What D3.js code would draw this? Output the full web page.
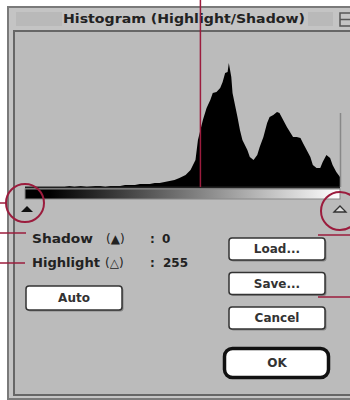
<!DOCTYPE html>
<html>
<head>
<meta charset="utf-8">
<script src="https://cdn.jsdelivr.net/npm/d3@7"></script>
<style>
  body { margin: 0; background: #fff; }
  svg { display: block; font-family: "DejaVu Sans", sans-serif; }
</style>
</head>
<body>
<svg id="chart" width="350" height="400"></svg>
<script>
// histogram: tonal level (0-255) and pixel count (arbitrary units)
const levels = [0, 16, 32, 36, 40, 45, 50, 57, 61, 65, 69, 73, 77, 81, 85, 89, 93, 97, 101, 105, 109, 113, 117, 121, 125,
  130, 134, 138, 140, 142, 144, 147, 150, 152, 155, 158, 160, 162, 164, 165, 167, 168, 172, 174, 176, 180, 182, 185,
  188, 190, 193, 196, 198, 201, 204, 206, 209, 212, 215, 217, 220, 223, 225, 228, 231, 233, 236, 239, 241, 244, 247,
  249, 252, 255]
const counts = [0, 0, 0, 1, 0, 1, 0, 1, 1, 0, 1, 1, 1, 2, 2, 2, 3, 3, 3, 4, 4, 5, 6, 7, 9,
  12, 17, 27, 47, 57, 67, 79, 87, 94, 95, 99, 105, 114, 115, 124, 110, 94, 70, 57, 47, 37, 30, 27,
  32, 40, 50, 64, 70, 72, 75, 74, 67, 60, 54, 50, 50, 49, 44, 37, 30, 22, 19, 19, 25, 32, 29,
  22, 15, 10]

const shadowLevel = 0
const highlightLevel = 255
const pointerLevel = 142

const titleText = 'Histogram (Highlight/Shadow)'
const sideButtons = ['Load...', 'Save...', 'Cancel']

const svg = d3.select('#chart')
const red = '#9b1c3d'
const gray = '#bbbbbb'

// window frame
svg.append('rect').attr('x', 8).attr('y', 7).attr('width', 350).attr('height', 392)
  .attr('fill', '#c4c4c4').attr('stroke', '#7a7a7a').attr('stroke-width', 2)
svg.append('rect').attr('x', 14).attr('y', 31).attr('width', 345).attr('height', 364)
  .attr('fill', gray).attr('stroke', '#666').attr('stroke-width', 2)

// title bar
svg.append('rect').attr('x', 16).attr('y', 12).attr('width', 46).attr('height', 14).attr('fill', '#b9b9b9')
svg.append('rect').attr('x', 308).attr('y', 12).attr('width', 25).attr('height', 14).attr('fill', '#b9b9b9')
svg.append('rect').attr('x', 340).attr('y', 13).attr('width', 14).attr('height', 13)
  .attr('fill', 'none').attr('stroke', '#555').attr('stroke-width', 1.5)
svg.append('line').attr('x1', 340).attr('x2', 354).attr('y1', 19.5).attr('y2', 19.5)
  .attr('stroke', '#555').attr('stroke-width', 1.5)
svg.append('text').attr('x', 63).attr('y', 23).text(titleText)
  .attr('font-size', 13).attr('font-weight', 'bold').attr('fill', '#222')
  .attr('textLength', 242).attr('lengthAdjust', 'spacingAndGlyphs')

// scales
const x = d3.scaleLinear().domain([0, 255]).range([25, 340])
const y = d3.scaleLinear().domain([0, 130]).range([187, 57])

const data = levels.map((l, i) => ({ level: l, count: counts[i] }))

const area = d3.area()
  .x(d => x(d.level))
  .y0(y(0))
  .y1(d => y(d.count))

svg.append('path').datum(data).attr('d', area).attr('fill', '#000')
svg.append('line').attr('x1', x(0)).attr('x2', x(255)).attr('y1', y(0) + 0.5).attr('y2', y(0) + 0.5)
  .attr('stroke', '#222').attr('stroke-width', 2)

// highlight limit line on right
svg.append('line').attr('x1', x(255) + 0.5).attr('x2', x(255) + 0.5).attr('y1', y(74)).attr('y2', y(0))
  .attr('stroke', '#888').attr('stroke-width', 1.5)

// gradient bar
const grad = svg.append('defs').append('linearGradient').attr('id', 'ramp')
grad.append('stop').attr('offset', '0%').attr('stop-color', '#000')
grad.append('stop').attr('offset', '8%').attr('stop-color', '#000')
grad.append('stop').attr('offset', '100%').attr('stop-color', '#fff')
svg.append('rect').attr('x', x(0)).attr('y', 189).attr('width', x(255) - x(0)).attr('height', 10)
  .attr('fill', 'url(#ramp)').attr('stroke', '#888').attr('stroke-width', 1)

// slider triangles
const tri = (cx) => `M${cx - 6},212 L${cx},206 L${cx + 6},212 Z`
svg.append('path').attr('d', tri(x(shadowLevel) + 2)).attr('fill', '#111')
svg.append('path').attr('d', tri(x(highlightLevel))).attr('fill', '#ddd').attr('stroke', '#333').attr('stroke-width', 1.3)

// labels
const lab = svg.append('g').attr('font-size', 12).attr('font-weight', 'bold').attr('fill', '#222')
lab.append('text').attr('x', 32).attr('y', 243).text('Shadow').attr('textLength', 61).attr('lengthAdjust', 'spacingAndGlyphs')
lab.append('text').attr('x', 106).attr('y', 243).text('(▲)').attr('font-weight', 'normal')
lab.append('text').attr('x', 150).attr('y', 243).text(':')
lab.append('text').attr('x', 162).attr('y', 243).text(String(shadowLevel))
lab.append('text').attr('x', 32).attr('y', 267).text('Highlight').attr('textLength', 68).attr('lengthAdjust', 'spacingAndGlyphs')
lab.append('text').attr('x', 105).attr('y', 267).text('(△)').attr('font-weight', 'normal')
lab.append('text').attr('x', 150).attr('y', 267).text(':')
lab.append('text').attr('x', 163).attr('y', 267).text(String(highlightLevel))

// buttons
const button = (bx, by, w, h, label) => {
  svg.append('rect').attr('x', bx + 1.5).attr('y', by + 1.5).attr('width', w).attr('height', h).attr('rx', 3).attr('fill', '#888')
  svg.append('rect').attr('x', bx).attr('y', by).attr('width', w).attr('height', h).attr('rx', 3)
    .attr('fill', '#fff').attr('stroke', '#333').attr('stroke-width', 1.5)
  svg.append('text').attr('x', bx + w / 2).attr('y', by + h / 2 + 4).attr('text-anchor', 'middle')
    .attr('font-size', 12).attr('font-weight', 'bold').attr('fill', '#333').text(label)
}
button(26, 286, 96, 24, 'Auto')
const by = d3.scalePoint().domain(sideButtons).range([238, 307])
sideButtons.forEach(b => button(229, by(b), 96, 22, b))

svg.append('rect').attr('x', 224.5).attr('y', 348.5).attr('width', 104).attr('height', 29).attr('rx', 8)
  .attr('fill', '#fff').attr('stroke', '#111').attr('stroke-width', 3.5)
svg.append('text').attr('x', 277).attr('y', 367).attr('text-anchor', 'middle')
  .attr('font-size', 12).attr('font-weight', 'bold').attr('fill', '#333').text('OK')

// annotation call-outs
const ann = svg.append('g').attr('stroke', red).attr('fill', 'none').attr('stroke-width', 1.5)
ann.append('line').attr('x1', x(pointerLevel)).attr('x2', x(pointerLevel)).attr('y1', 0).attr('y2', y(0))
ann.append('circle').attr('cx', x(shadowLevel)).attr('cy', 203).attr('r', 19).attr('stroke-width', 2)
ann.append('circle').attr('cx', x(highlightLevel)).attr('cy', 211).attr('r', 19).attr('stroke-width', 2)
ann.append('line').attr('x1', 0).attr('x2', 6).attr('y1', 203).attr('y2', 203)
ann.append('line').attr('x1', 0).attr('x2', 26).attr('y1', 233).attr('y2', 233)
ann.append('line').attr('x1', 0).attr('x2', 25).attr('y1', 263).attr('y2', 263)
ann.append('line').attr('x1', 318).attr('x2', 350).attr('y1', 235).attr('y2', 235)
ann.append('line').attr('x1', 318).attr('x2', 350).attr('y1', 297).attr('y2', 297)
</script>
</body>
</html>
